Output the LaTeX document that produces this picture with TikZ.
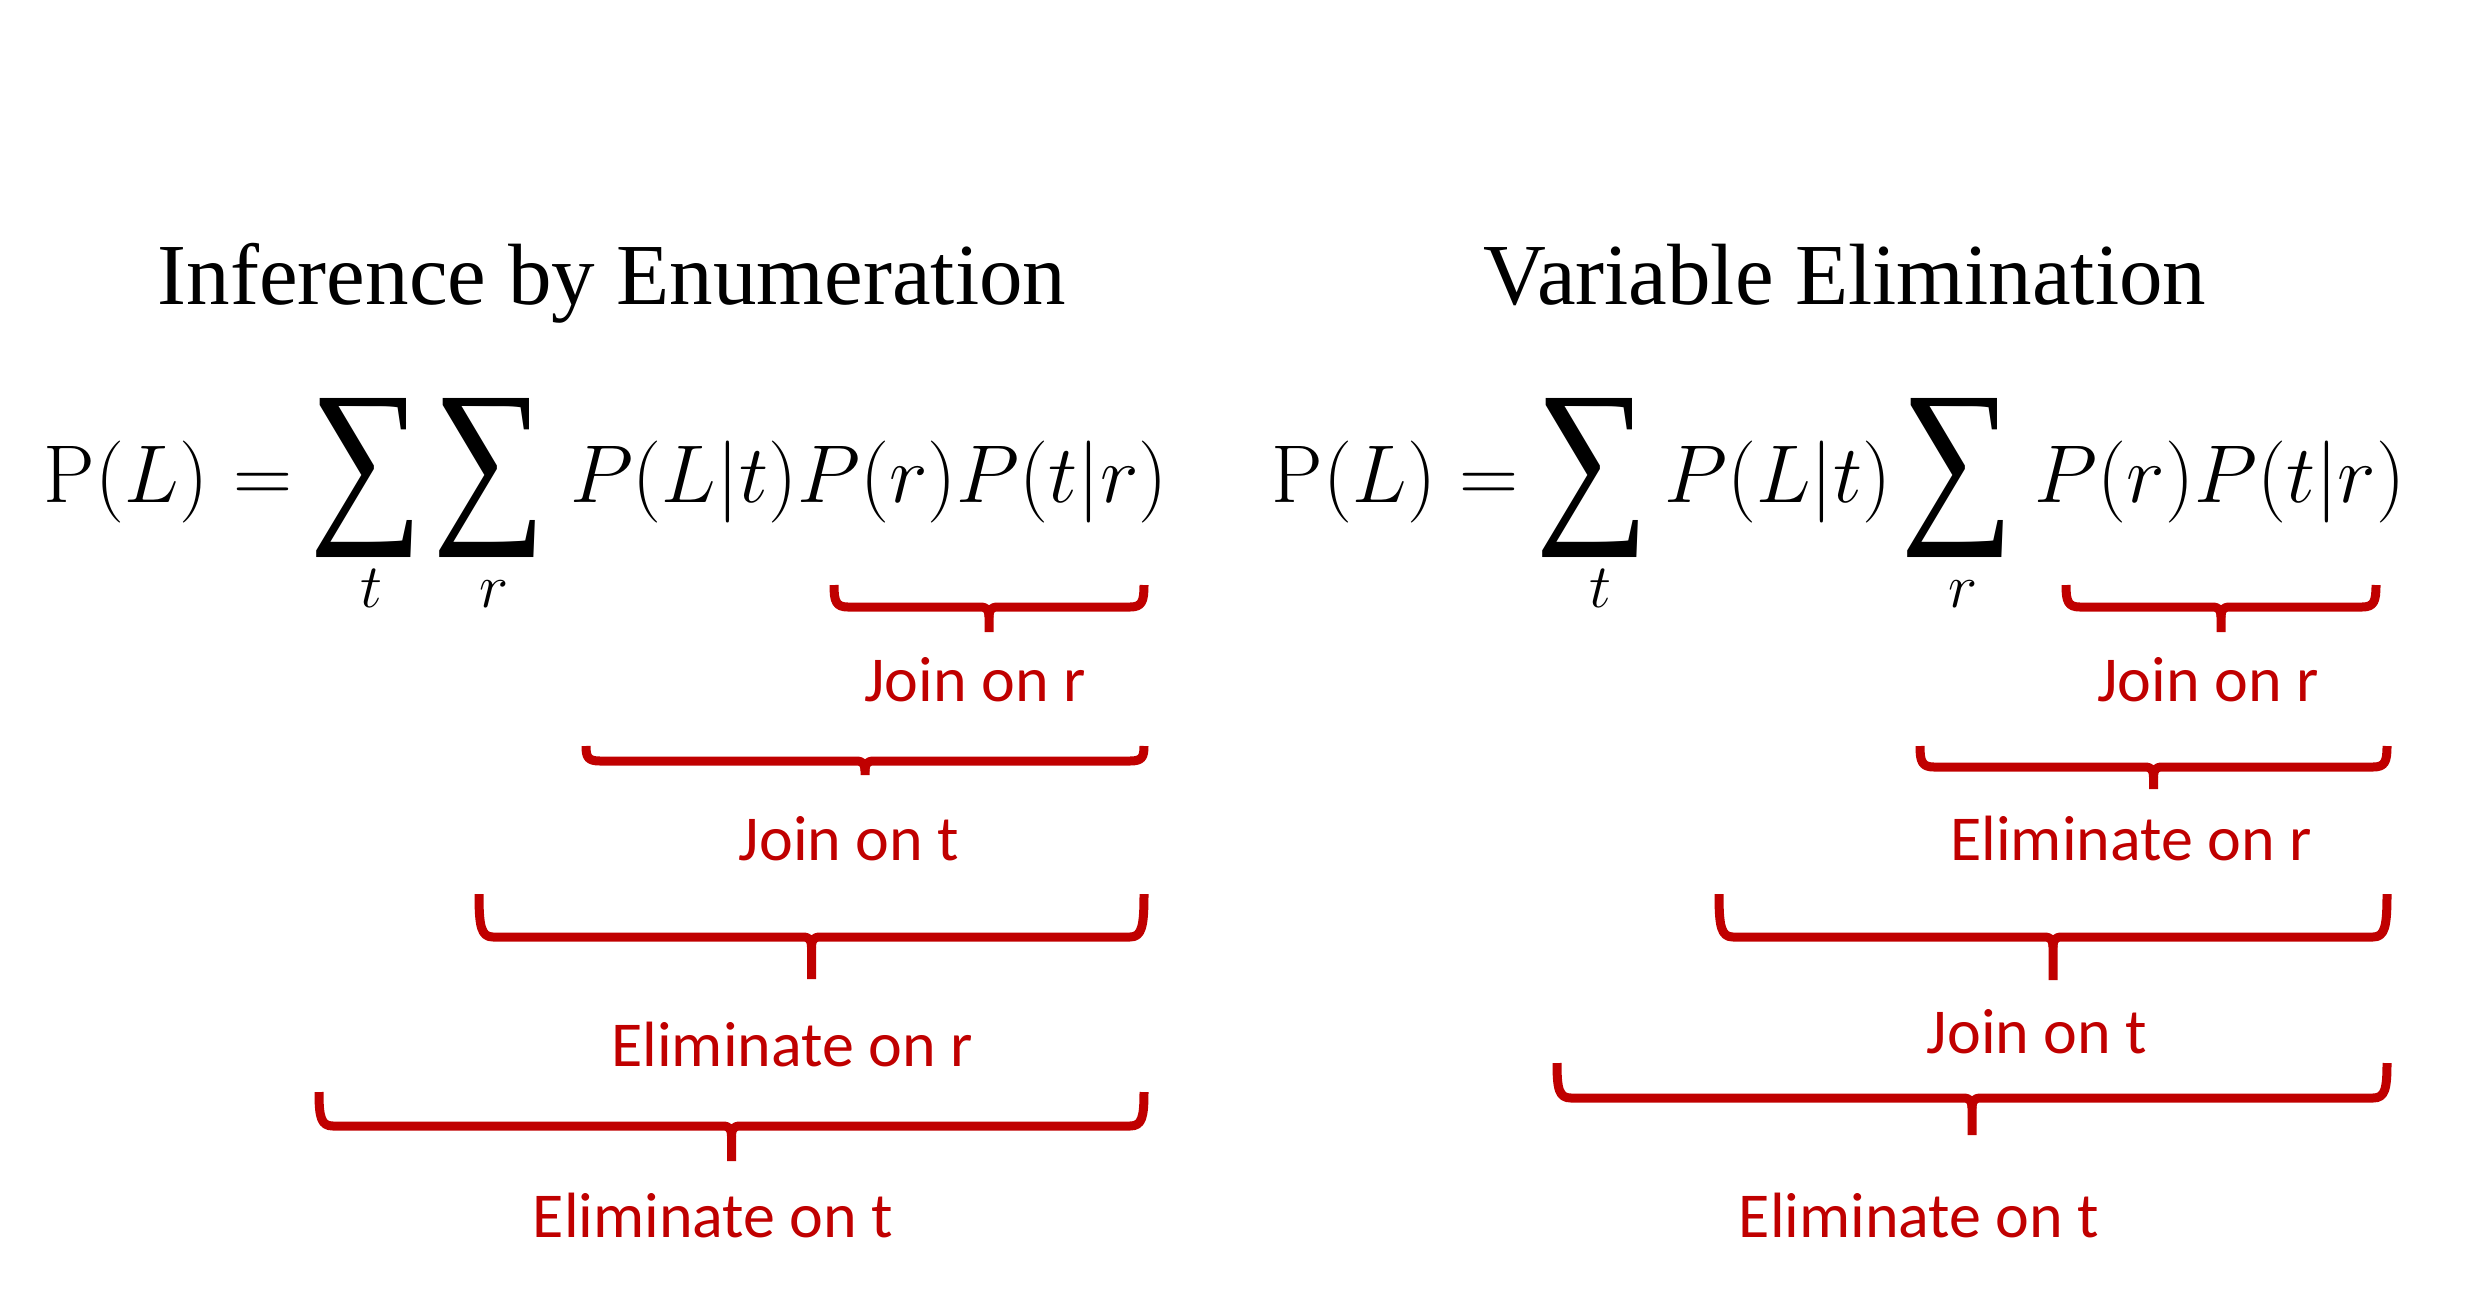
\RequirePackage{fix-cm}
\documentclass[tikz,border=0pt]{standalone}
\usepackage[no-math]{fontspec}
\usepackage{graphicx}
\setmainfont{Liberation Serif}
\newfontfamily\labelfont{Carlito}
\newfontfamily\sumfont{Liberation Serif}
\definecolor{brred}{RGB}{192,0,0}
\newcommand{\bigsum}{\resizebox*{57pt}{79.5pt}{\sumfont ∑}}
\newcommand{\redbrace}[5]{% xL xR top bar tip
  \pgfmathsetmacro{\xm}{(#1+#2)/2}
  \pgfmathsetmacro{\dd}{#4-#3}
  \draw[brk] (#1+5,#3) .. controls (#1+5,#4-0.25*\dd) and (#1+7,#4) .. (#1+19,#4)
     -- (\xm-9,#4) .. controls (\xm-2,#4) and (\xm,#4+3) .. (\xm,#4+10) -- (\xm,#5);
  \draw[brk] (#2-5,#3) .. controls (#2-5,#4-0.25*\dd) and (#2-7,#4) .. (#2-19,#4)
     -- (\xm+9,#4) .. controls (\xm+2,#4) and (\xm,#4+3) .. (\xm,#4+10);
}
\begin{document}
\begin{tikzpicture}[x=0.5pt,y=-0.5pt,
  brk/.style={draw=brred, line width=4.5pt, line join=round},
  ttl/.style={font=\fontsize{43.5}{50}\selectfont, anchor=base, inner sep=0},
  eq/.style={font=\fontsize{41}{49}\selectfont, anchor=base, inner sep=0},
  sub/.style={font=\fontsize{31}{37}\selectfont, anchor=base, inner sep=0},
  lbl/.style={font=\labelfont\fontsize{32}{38}\selectfont, text=brred, anchor=base, inner sep=0},
  sumn/.style={anchor=north west, inner sep=0}]
\useasboundingbox (0,0) rectangle (2465,1292);
% titles
\node[ttl] (t1) at (612,304) {Inference by Enumeration};
\node[ttl] (t2) at (1845,304) {Variable Elimination};
% left equation
\node[eq] (lPL) at (126,502) {$\mathrm{P}(L)$};
\node[eq] (leq) at (263,502) {$=$};
\node[sumn] (ls1) at (309,398) {\bigsum};
\node[sumn] (ls2) at (432,398) {\bigsum};
\node[sub] (lt) at (371,607) {$t$};
\node[sub] (lr) at (494,607) {$r$};
\node[eq] (lprod) at (869,502) {$P(L|t)P(r)P(t|r)$};
% right equation
\node[eq] (rPL) at (1354,502) {$\mathrm{P}(L)$};
\node[eq] (req) at (1489,502) {$=$};
\node[sumn] (rs1) at (1535,398) {\bigsum};
\node[eq] (rfac) at (1778,502) {$P(L|t)$};
\node[sumn] (rs2) at (1900,398) {\bigsum};
\node[sub] (rt) at (1600,607) {$t$};
\node[sub] (rr) at (1963,607) {$r$};
\node[eq] (rprod) at (2220,502) {$P(r)P(t|r)$};
% left brackets
\redbrace{829}{1149}{585}{607}{632}
\redbrace{581}{1149}{746}{761}{775}
\redbrace{474}{1149}{894}{937}{979}
\redbrace{314}{1149}{1092}{1126}{1161}
\node[lbl] (l1) at (975,701) {Join on r};
\node[lbl] (l2) at (849,860) {Join on t};
\node[lbl] (l3) at (792,1066) {Eliminate on r};
\node[lbl] (l4) at (713,1237) {Eliminate on t};
% right brackets
\redbrace{2061}{2381}{585}{607}{632}
\redbrace{1915}{2392}{746}{767}{789}
\redbrace{1714}{2392}{894}{937}{980}
\redbrace{1552}{2392}{1063}{1098}{1135}
\node[lbl] (r1) at (2208,701) {Join on r};
\node[lbl] (r2) at (2131,860) {Eliminate on r};
\node[lbl] (r3) at (2037,1053) {Join on t};
\node[lbl] (r4) at (1919,1237) {Eliminate on t};
\end{tikzpicture}
\end{document}
